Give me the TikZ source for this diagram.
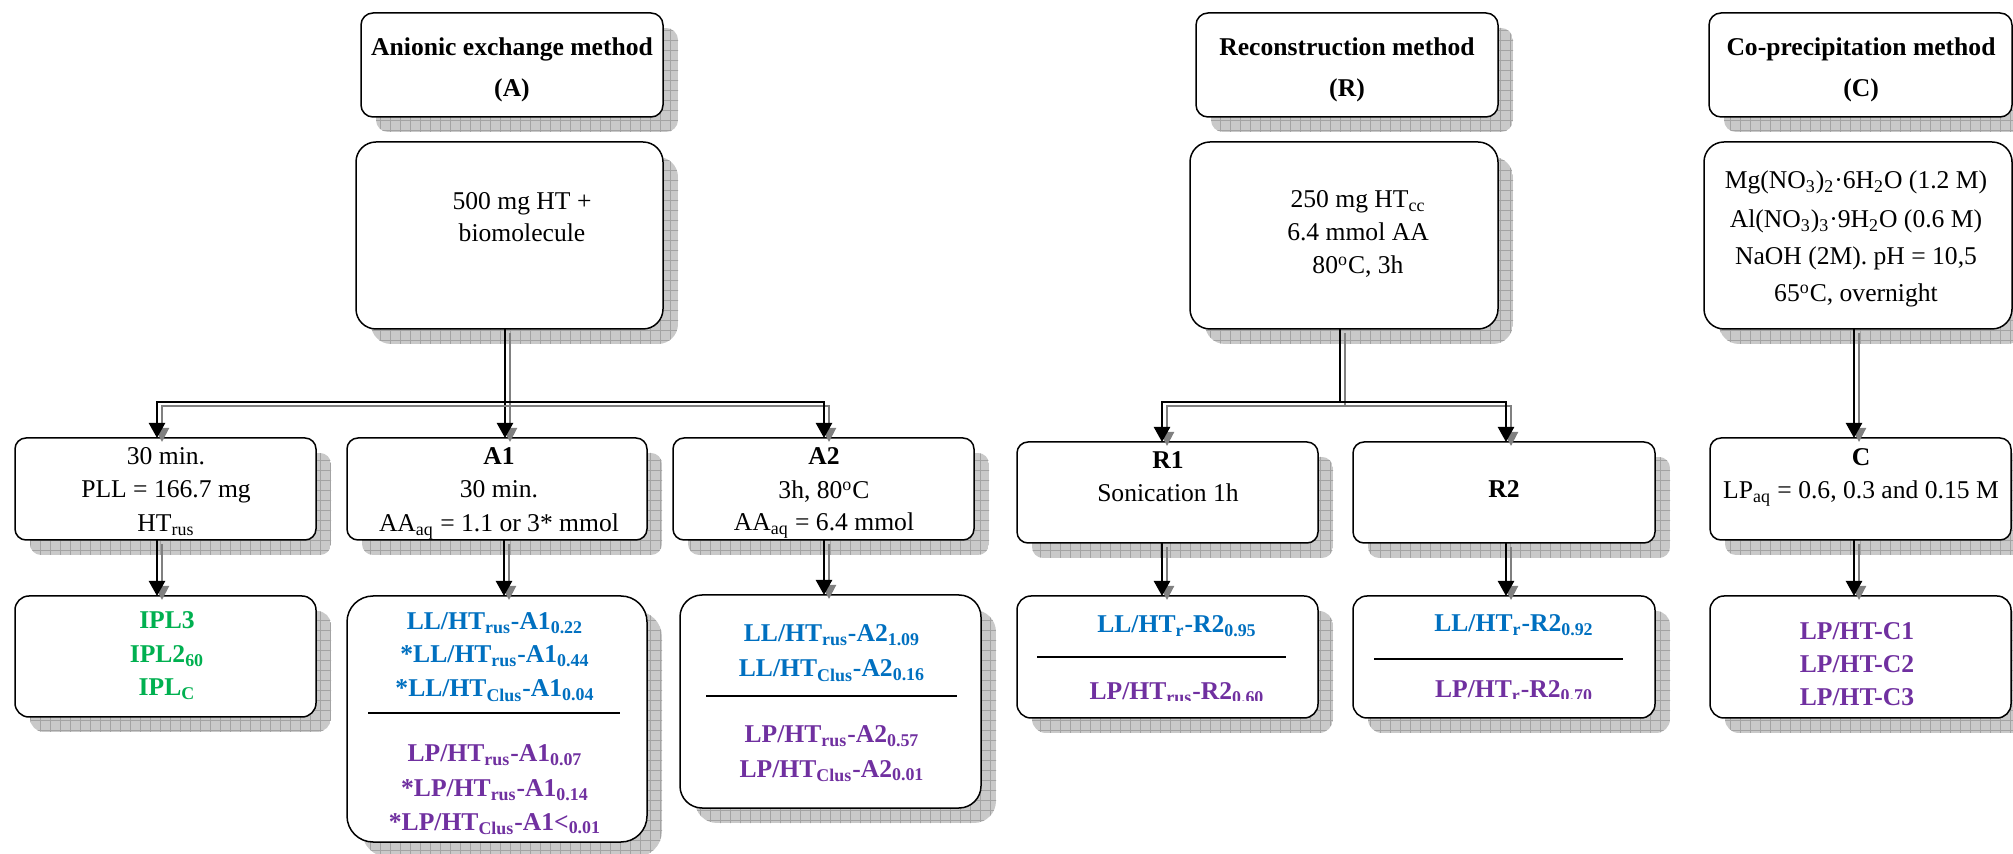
\documentclass[tikz,border=0pt]{standalone}
\usepackage{fontspec}
\setmainfont{Liberation Serif}
\usetikzlibrary{arrows.meta}
\definecolor{cblue}{HTML}{0070C0}
\definecolor{cpurple}{HTML}{7030A0}
\definecolor{cgreen}{HTML}{00B050}
\tikzset{
  shfill/.style={fill=gray!42},
  shgrid/.style={draw=gray!72, line width=0.35pt, step=5pt},
  boxst/.style={draw, fill=white, line width=0.75pt, inner sep=0pt, outer sep=0pt},
  txt/.style={anchor=base, inner sep=0pt, font=\fontsize{12.8}{15}\selectfont},
  ttl/.style={txt, font=\fontsize{12.8}{15}\selectfont\bfseries},
  res/.style={txt, font=\fontsize{12.8}{15}\selectfont\bfseries},
  conn/.style={line width=1.2pt, -{Triangle[length=7.5pt,width=8pt]}},
  shconn/.style={gray, line width=1pt, -{Triangle[length=7pt,width=7pt]}, transform canvas={xshift=2.5pt,yshift=-2pt}},
  sepline/.style={line width=1pt}
}
\newcommand\shbox[6]{%
  \begin{scope}
    \clip[rounded corners=#6] ({#2+15},{#3+15}) rectangle ({#4+15},{#5+15});
    \fill[shfill] ({#2+15},{#3+15}) rectangle ({#4+15},{#5+15});
    \draw[shgrid] ({#2},{#5+20}) grid ({#4+20},{#3});
  \end{scope}
  \node[boxst, rounded corners=#6, minimum width={(#4-#2)*0.5pt}, minimum height={(#5-#3)*0.5pt}] (#1) at ({(#2+#4)/2},{(#3+#5)/2}) {};
}
\newcommand\conn[1]{\draw[shconn] #1; \draw[conn] #1;}
\begin{document}
\begin{tikzpicture}[x=0.5pt, y=-0.5pt]
\useasboundingbox (0,0) rectangle (2013,854);
% ---- boxes ----
\shbox{tA}{361}{13}{663}{117}{6pt}
\shbox{tR}{1196}{13}{1498}{117}{6pt}
\shbox{tC}{1709}{13}{2012}{117}{6pt}
\shbox{cA}{356}{142}{663}{329}{10pt}
\shbox{cR}{1190}{142}{1498}{329}{10pt}
\shbox{cC}{1704}{142}{2012}{329}{10pt}
\shbox{b0}{15}{438}{316}{540}{5.5pt}
\shbox{bA1}{347}{438}{647}{540}{5.5pt}
\shbox{bA2}{673}{438}{974}{540}{5.5pt}
\shbox{bR1}{1017}{442}{1318}{543}{5.5pt}
\shbox{bR2}{1353}{442}{1655}{543}{5.5pt}
\shbox{bC}{1710}{438}{2011}{540}{5.5pt}
\shbox{rIPL}{15}{596}{316}{717}{7pt}
\shbox{rA1}{347}{596}{647}{842}{13pt}
\shbox{rA2}{680}{595}{981}{808}{11pt}
\shbox{rR1}{1017}{596}{1318}{718}{7pt}
\shbox{rR2}{1353}{596}{1655}{718}{7pt}
\shbox{rC}{1710}{596}{2011}{718}{7pt}
% ---- connector points ----
\coordinate (jA) at (505,402);
\coordinate (kA0) at (157,438);
\coordinate (kA1) at (505,438);
\coordinate (kA2) at (824,438);
\coordinate (jR) at (1340,402);
\coordinate (kR1) at (1162,442);
\coordinate (kR2) at (1506,442);
\coordinate (kC) at (1854,438);
\coordinate (dA0) at (157,596);
\coordinate (dA1) at (504,596);
\coordinate (dA2) at (824,595);
\coordinate (dR1) at (1162,596);
\coordinate (dR2) at (1506,596);
\coordinate (dC) at (1854,596);
% ---- connectors ----
\conn{(cA.south -| jA) -- (kA1)}
\conn{(jA) -| (kA0)}
\conn{(jA) -| (kA2)}
\conn{(cR.south -| jR) -- (jR) -| (kR1)}
\conn{(jR) -| (kR2)}
\conn{(cC.south -| kC) -- (kC)}
\conn{(b0.south -| dA0) -- (dA0)}
\conn{(bA1.south -| dA1) -- (dA1)}
\conn{(bA2.south -| dA2) -- (dA2)}
\conn{(bR1.south -| dR1) -- (dR1)}
\conn{(bR2.south -| dR2) -- (dR2)}
\conn{(bC.south -| dC) -- (dC)}
% ---- titles ----
\node[ttl] (tA1) at (512,56) {Anionic exchange method};
\node[ttl] (tA2) at (512,97) {(A)};
\node[ttl] (tR1) at (1347,56) {Reconstruction method};
\node[ttl] (tR2) at (1347,97) {(R)};
\node[ttl] (tC1) at (1861,56) {Co-precipitation method};
\node[ttl] (tC2) at (1861,97) {(C)};
% ---- content ----
\node[txt] (cA1) at (522,210) {500 mg HT +};
\node[txt] (cA2) at (522,242) {biomolecule};
\node[txt] (cR1) at (1358,208) {250 mg HT\textsubscript{cc}};
\node[txt] (cR2) at (1358,241) {6.4 mmol AA};
\node[txt] (cR3) at (1358,274) {80\textsuperscript{o}C, 3h};
\node[txt] (cC1) at (1856,189) {Mg(NO\textsubscript{3})\textsubscript{2}·6H\textsubscript{2}O (1.2 M)};
\node[txt] (cC2) at (1856,228) {Al(NO\textsubscript{3})\textsubscript{3}·9H\textsubscript{2}O (0.6 M)};
\node[txt] (cC3) at (1856,265) {NaOH (2M). pH = 10,5};
\node[txt] (cC4) at (1856,302) {65\textsuperscript{o}C, overnight};
% ---- row 3 ----
\node[txt] (b01) at (166,465) {30 min.};
\node[txt] (b02) at (166,498) {PLL = 166.7 mg};
\node[txt] (b03) at (166,532) {HT\textsubscript{rus}};
\node[ttl] (bA11) at (499,465) {A1};
\node[txt] (bA12) at (499,498) {30 min.};
\node[txt] (bA13) at (499,532) {AA\textsubscript{aq} = 1.1 or 3* mmol};
\node[ttl] (bA21) at (824,465) {A2};
\node[txt] (bA22) at (824,499) {3h, 80\textsuperscript{o}C};
\node[txt] (bA23) at (824,531) {AA\textsubscript{aq} = 6.4 mmol};
\node[ttl] (bR11) at (1168,469) {R1};
\node[txt] (bR12) at (1168,502) {Sonication 1h};
\node[ttl] (bR21) at (1504,498) {R2};
\node[ttl] (bC1) at (1861,466) {C};
\node[txt] (bC2) at (1861,499) {LP\textsubscript{aq} = 0.6, 0.3 and 0.15 M};
% ---- row 4 ----
\node[res, cgreen] (r01) at (167,629) {IPL3};
\node[res, cgreen] (r02) at (167,663) {IPL2\textsubscript{60}};
\node[res, cgreen] (r03) at (167,696) {IPL\textsubscript{C}};
\node[res, cblue] (rA11) at (495,630) {LL/HT\textsubscript{rus}-A1\textsubscript{0.22}};
\node[res, cblue] (rA12) at (495,663) {*LL/HT\textsubscript{rus}-A1\textsubscript{0.44}};
\node[res, cblue] (rA13) at (495,697) {*LL/HT\textsubscript{Clus}-A1\textsubscript{0.04}};
\draw[sepline] (368,713) -- (620,713);
\node[res, cpurple] (rA14) at (495,762) {LP/HT\textsubscript{rus}-A1\textsubscript{0.07}};
\node[res, cpurple] (rA15) at (495,797) {*LP/HT\textsubscript{rus}-A1\textsubscript{0.14}};
\node[res, cpurple] (rA16) at (495,830) {*LP/HT\textsubscript{Clus}-A1<\textsubscript{0.01}};
\node[res, cblue] (rA21) at (832,642) {LL/HT\textsubscript{rus}-A2\textsubscript{1.09}};
\node[res, cblue] (rA22) at (832,677) {LL/HT\textsubscript{Clus}-A2\textsubscript{0.16}};
\draw[sepline] (706,696) -- (957,696);
\node[res, cpurple] (rA23) at (832,743) {LP/HT\textsubscript{rus}-A2\textsubscript{0.57}};
\node[res, cpurple] (rA24) at (832,777) {LP/HT\textsubscript{Clus}-A2\textsubscript{0.01}};
\node[res, cblue] (rR11) at (1177,633) {LL/HT\textsubscript{r}-R2\textsubscript{0.95}};
\draw[sepline] (1037,657) -- (1286,657);
\begin{scope}
  \clip (1020,600) rectangle (1315,701);
  \node[res, cpurple] (rR12) at (1177,700) {LP/HT\textsubscript{rus}-R2\textsubscript{0.60}};
\end{scope}
\node[res, cblue] (rR21) at (1514,632) {LL/HT\textsubscript{r}-R2\textsubscript{0.92}};
\draw[sepline] (1374,659) -- (1623,659);
\begin{scope}
  \clip (1356,600) rectangle (1652,699);
  \node[res, cpurple] (rR22) at (1514,698) {LP/HT\textsubscript{r}-R2\textsubscript{0.70}};
\end{scope}
\node[res, cpurple] (rC1) at (1857,640) {LP/HT-C1};
\node[res, cpurple] (rC2) at (1857,673) {LP/HT-C2};
\node[res, cpurple] (rC3) at (1857,706) {LP/HT-C3};
\end{tikzpicture}
\end{document}
